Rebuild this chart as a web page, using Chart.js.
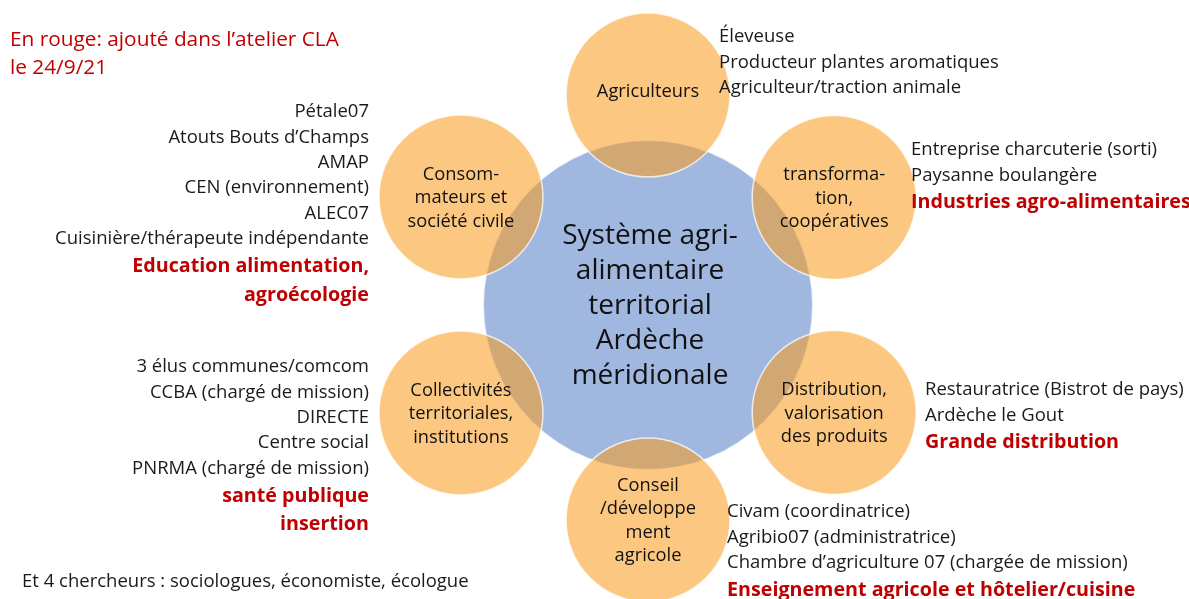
<!DOCTYPE html>
<html>
<head>
<meta charset="utf-8">
<script src="https://cdn.jsdelivr.net/npm/chart.js@4.4.0/dist/chart.umd.min.js"></script>
<style>
    html, body { margin: 0; padding: 0; background: #fff; }
    #wrap { width: 1189px; height: 599px; position: relative; }
</style>
</head>
<body>
<div id="wrap"><canvas id="myChart"></canvas></div>
<script>
// centre du schéma
const centreLignes = ["Système agri-", "alimentaire", "territorial", "Ardèche", "méridionale"];

// les 6 pétales (sens horaire depuis le haut)
const petales = [
    ["Agriculteurs"],
    ["transforma-", "tion,", "coopératives"],
    ["Distribution,", "valorisation", "des produits"],
    ["Conseil", "/développe", "ment", "agricole"],
    ["Collectivités", "territoriales,", "institutions"],
    ["Consom-", "mateurs et", "société civile"]
];
const angles = [90, 30, -30, -90, -150, 150];

// participants par pétale
const membres = [
    ["Éleveuse", "Producteur plantes aromatiques", "Agriculteur/traction animale"],
    ["Entreprise charcuterie (sorti)", "Paysanne boulangère"],
    ["Restauratrice (Bistrot de pays)", "Ardèche le Gout"],
    ["Civam (coordinatrice)", "Agribio07 (administratrice)", "Chambre d’agriculture 07 (chargée de mission)"],
    ["3 élus communes/comcom", "CCBA (chargé de mission)", "DIRECTE", "Centre social", "PNRMA (chargé de mission)"],
    ["Pétale07", "Atouts Bouts d’Champs", "AMAP", "CEN (environnement)", "ALEC07", "Cuisinière/thérapeute indépendante"]
];
// ajouts en rouge (atelier CLA)
const ajouts = [
    [],
    ["Industries agro-alimentaires"],
    ["Grande distribution"],
    ["Enseignement agricole et hôtelier/cuisine"],
    ["santé publique", "insertion"],
    ["Education alimentation,", "agroécologie"]
];

const noteHaut = ["En rouge: ajouté dans l’atelier CLA", "le 24/9/21"];
const noteBas = "Et 4 chercheurs : sociologues, économiste, écologue";

// mise en page
const distances = [210, 215, 215, 215, 216, 216];
const rayonCentre = 165, rayonPetale = 82;
const listes = [
    { align: "left", x: 719, y: 37 },
    { align: "left", x: 911, y: 150 },
    { align: "left", x: 925, y: 390 },
    { align: "left", x: 727, y: 512 },
    { align: "right", x: 369, y: 367 },
    { align: "right", x: 369, y: 112 }
];
const FONT = "'Open Sans'";
const NOIR = "#1a1a1a", ROUGE = "#c00000";

var pts = angles.map(function (a, i) {
    var r = a * Math.PI / 180;
    return { x: distances[i] * Math.cos(r), y: distances[i] * Math.sin(r), r: rayonPetale };
});

const textes = {
    id: 'textes',
    afterDatasetsDraw(chart) {
        const ctx = chart.ctx;
        ctx.save();
        ctx.textBaseline = "middle";
        // centre
        var c = chart.getDatasetMeta(1).data[0];
        ctx.fillStyle = "#111";
        ctx.textAlign = "center";
        ctx.font = "28px " + FONT;
        centreLignes.forEach(function (l, i) {
            ctx.fillText(l, c.x + 2, c.y + 1 + (i - (centreLignes.length - 1) / 2) * 35);
        });
        // pétales
        var meta = chart.getDatasetMeta(0);
        ctx.font = "18.3px " + FONT;
        petales.forEach(function (lignes, k) {
            var p = meta.data[k];
            lignes.forEach(function (l, i) {
                ctx.fillText(l, p.x, p.y + (i - (lignes.length - 1) / 2) * 23.5 + (k === 0 ? -3 : 1));
            });
        });
        // listes
        listes.forEach(function (L, k) {
            ctx.textAlign = L.align;
            var y = L.y;
            ctx.fillStyle = NOIR;
            ctx.font = "18.5px " + FONT;
            membres[k].forEach(function (l) {
                ctx.fillText(l, L.x, y);
                y += 25.4;
            });
            y += 2;
            ctx.fillStyle = ROUGE;
            ctx.font = "bold 19.7px " + FONT;
            ajouts[k].forEach(function (l) {
                ctx.fillText(l, L.x, y);
                y += 28.5;
            });
        });
        // notes
        ctx.textAlign = "left";
        ctx.fillStyle = ROUGE;
        ctx.font = "20.8px " + FONT;
        ctx.fillText(noteHaut[0], 10, 40);
        ctx.fillText(noteHaut[1], 10, 68);
        ctx.fillStyle = NOIR;
        ctx.font = "18.5px " + FONT;
        ctx.fillText(noteBas, 22, 582);
        ctx.restore();
    }
};

const ctx = document.getElementById('myChart');
new Chart(ctx, {
    type: 'bubble',
    data: {
        datasets: [{
                label: 'Pétales',
                data: pts,
                backgroundColor: 'rgba(250,155,25,0.55)',
                borderColor: 'rgba(255,255,255,0.75)',
                borderWidth: 1.5,
                clip: false,
                order: 1
            }, {
                label: 'Système',
                data: [{ x: 0, y: 0, r: rayonCentre }],
                backgroundColor: '#a0b7e0',
                borderColor: 'rgba(255,255,255,0.8)',
                borderWidth: 2,
                clip: false,
                order: 2
            }]
    },
    options: {
        responsive: true,
        maintainAspectRatio: false,
        animation: false,
        events: [],
        layout: { padding: 0, autoPadding: false },
        plugins: { legend: { display: false }, tooltip: { enabled: false } },
        scales: {
            x: { type: 'linear', min: -648, max: 541, display: false },
            y: { type: 'linear', min: -294, max: 305, display: false }
        }
    },
    plugins: [textes]
});
</script>
</body>
</html>
